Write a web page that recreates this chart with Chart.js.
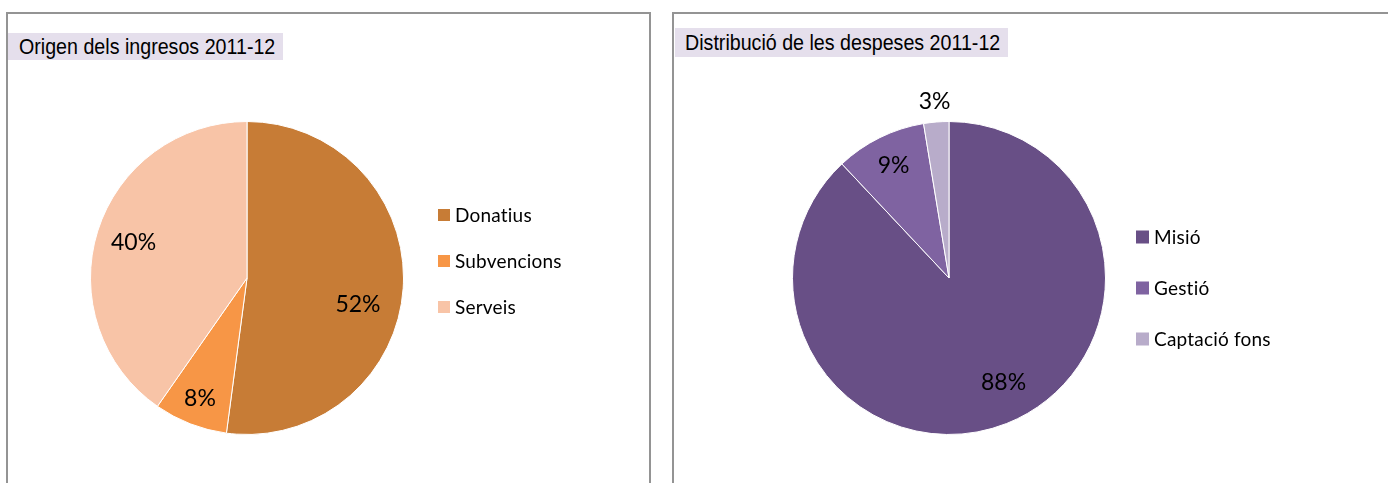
<!DOCTYPE html>
<html>
<head>
<meta charset="utf-8">
<script src="https://cdn.jsdelivr.net/npm/chart.js@4.4.1/dist/chart.umd.min.js"></script>
<style>
  html, body { margin: 0; padding: 0; background: #fff; }
  #wrap { position: relative; width: 1388px; height: 483px; overflow: hidden; background: #fff; }
  .panel { position: absolute; border: 2px solid #949494; border-bottom: none; box-sizing: border-box; }
  .tbg { position: absolute; background: #E5DFEC; }
  .ttl { position: absolute; font-family: "Liberation Sans", Arial, sans-serif; font-size: 22px; line-height: 24px; color: #000; white-space: nowrap; transform: scaleX(0.893); transform-origin: 0 0; }
  canvas { position: absolute; }
</style>
</head>
<body>
<div id="wrap">
  <div class="panel" style="left:6px; top:12px; width:645px; height:480px;"></div>
  <div class="panel" style="left:672px; top:12px; width:730px; height:480px; border-right:none;"></div>
  <div class="tbg" style="left:8px; top:33px; width:275px; height:27px;"></div>
  <div class="ttl" style="left:19px; top:35px;">Origen dels ingresos 2011-12</div>
  <div class="tbg" style="left:675px; top:28px; width:333px; height:29px;"></div>
  <div class="ttl" style="left:685px; top:31px;">Distribució de les despeses 2011-12</div>
  <canvas id="c1" width="640" height="469" style="left:8px; top:14px;"></canvas>
  <canvas id="c2" width="714" height="469" style="left:674px; top:14px;"></canvas>
</div>
<script>
// ---- Data ----
const incomeCategories = ["Donatius", "Subvencions", "Serveis"];
const incomeValues = [52.1, 7.6, 40.3];
const incomeColors = ["#C77C36", "#F79646", "#F8C4A7"];

const expenseCategories = ["Misió", "Gestió", "Captació fons"];
const expenseValues = [88.0, 9.4, 2.6];
const expenseColors = ["#684F86", "#7F63A1", "#B8ACCA"];

// ---- Plugin for data labels and legend ----
const pieExtras = {
  id: 'pieExtras',
  afterDatasetsDraw(chart, args, opts) {
    const ctx = chart.ctx;
    const meta = chart.getDatasetMeta(0);
    const ds = chart.data.datasets[0];
    const values = ds.data;
    const total = values.reduce((a, b) => a + b, 0);
    ctx.save();
    ctx.font = opts.labelFont;
    ctx.fillStyle = '#000';
    ctx.textAlign = 'center';
    ctx.textBaseline = 'middle';
    meta.data.forEach((arc, i) => {
      const p = arc.getProps(['x', 'y', 'startAngle', 'endAngle', 'outerRadius'], true);
      const mid = (p.startAngle + p.endAngle) / 2;
      const r = p.outerRadius * opts.radial[i];
      const off = opts.offsets[i];
      ctx.fillText(Math.round(values[i] / total * 100) + '%',
        p.x + Math.cos(mid) * r + off[0], p.y + Math.sin(mid) * r + off[1]);
    });
    const lg = opts.legend;
    ctx.textAlign = 'left';
    ctx.font = lg.font;
    if ('letterSpacing' in ctx) ctx.letterSpacing = '0.2px';
    chart.data.labels.forEach((lab, i) => {
      const y = lg.y + i * lg.gap;
      ctx.fillStyle = ds.backgroundColor[i];
      ctx.fillRect(lg.x, y - lg.box / 2, lg.box, lg.box);
      ctx.fillStyle = '#000';
      ctx.fillText(lab, lg.textX, y + 1);
    });
    ctx.restore();
  }
};

function makePie(id, labels, values, colors, padding, extras) {
  return new Chart(document.getElementById(id), {
    type: 'pie',
    data: {
      labels: labels,
      datasets: [{ data: values, backgroundColor: colors, borderColor: '#ffffff', borderWidth: 1 }]
    },
    options: {
      responsive: false,
      animation: false,
      layout: { padding: padding },
      plugins: {
        legend: { display: false },
        tooltip: { enabled: false },
        title: { display: false },
        pieExtras: extras
      }
    },
    plugins: [pieExtras]
  });
}

makePie('c1', incomeCategories, incomeValues, incomeColors,
  { left: 82, top: 107, right: 244, bottom: 48 },
  {
    labelFont: '23px Lato, "Noto Sans", sans-serif',
    radial: [0.73, 0.83, 0.76],
    offsets: [[-3, 19], [0, 0], [0, 0]],
    legend: { font: '19px Lato, "Noto Sans", sans-serif', x: 430, textX: 447, y: 201, gap: 46, box: 12 }
  });

makePie('c2', expenseCategories, expenseValues, expenseColors,
  { left: 118, top: 107, right: 282, bottom: 48 },
  {
    labelFont: '23px Lato, "Noto Sans", sans-serif',
    radial: [0.756, 0.80, 1.13],
    offsets: [[11, -5], [0, 0], [0, 0]],
    legend: { font: '19px Lato, "Noto Sans", sans-serif', x: 462, textX: 480, y: 223, gap: 51, box: 13 }
  });
</script>
</body>
</html>
